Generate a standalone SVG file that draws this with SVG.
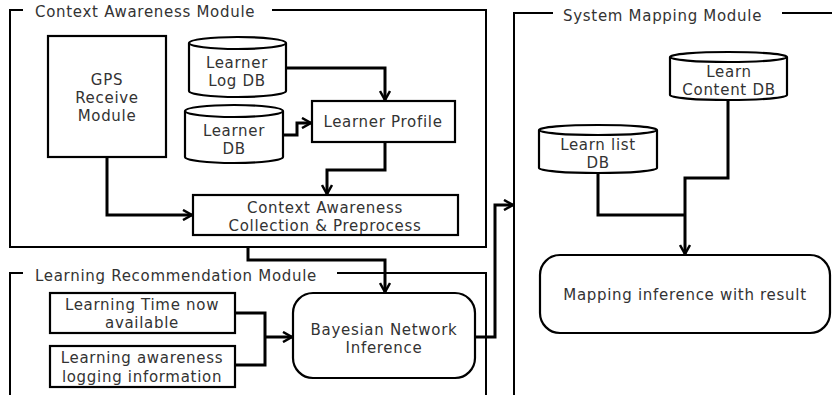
<svg xmlns="http://www.w3.org/2000/svg" width="832" height="395" viewBox="0 0 832 395">
<defs>
<marker id="arr" viewBox="0 0 12 12" refX="10" refY="6" markerWidth="12" markerHeight="12" markerUnits="userSpaceOnUse" orient="auto">
<path d="M1,1 L10,6 L1,11" fill="none" stroke="#000" stroke-width="2.5"/>
</marker>
</defs>
<style>
text{font-family:"DejaVu Sans","Noto Sans",sans-serif;font-size:15px;letter-spacing:0.7px;fill:#333;text-anchor:middle}
.t{text-anchor:start}
.frame{fill:none;stroke:#000;stroke-width:2}
.box{fill:#fff;stroke:#000;stroke-width:2.2}
.c{fill:none;stroke:#000;stroke-width:3}
</style>
<rect width="832" height="395" fill="#fff"/>
<g id="context-frame">
<path class="frame" d="M23,10 H10 V247 H486 V10 H272"/>
<text class="t" x="35" y="17">Context Awareness Module</text>
</g>
<g id="recommend-frame">
<path class="frame" d="M10,395 V273 H23 M337,273 H486 V395"/>
<text class="t" x="35" y="281">Learning Recommendation Module</text>
</g>
<g id="mapping-frame">
<path class="frame" d="M514,395 V13 H553 M782,13 H832"/>
<text class="t" x="563" y="21">System Mapping Module</text>
</g>
<g id="gps">
<rect class="box" x="48" y="36" width="118" height="121"/>
<text x="107" y="85">GPS</text>
<text x="107" y="103">Receive</text>
<text x="107" y="121">Module</text>
</g>
<g id="learner-log-db">
<path class="box" d="M189,43 A48.5,6 0 0 1 286,43 V91 A48.5,6 0 0 1 189,91 Z"/>
<path class="box" fill="none" d="M189,43 A48.5,6 0 0 0 286,43"/>
<text x="237" y="68">Learner</text>
<text x="237" y="86">Log DB</text>
</g>
<g id="learner-db">
<path class="box" d="M185,111 A49,6 0 0 1 283,111 V157 A49,6 0 0 1 185,157 Z"/>
<path class="box" fill="none" d="M185,111 A49,6 0 0 0 283,111"/>
<text x="234" y="136">Learner</text>
<text x="234" y="154">DB</text>
</g>
<g id="learner-profile">
<rect class="box" x="312" y="101" width="143" height="41"/>
<text x="383" y="127">Learner Profile</text>
</g>
<g id="collection">
<rect class="box" x="193" y="195" width="265" height="40"/>
<text x="325" y="213">Context Awareness</text>
<text x="325" y="231">Collection &amp; Preprocess</text>
</g>
<g id="learning-time">
<rect class="box" x="50" y="293" width="185" height="40"/>
<text x="142" y="310">Learning Time now</text>
<text x="142" y="328">available</text>
</g>
<g id="learning-awareness">
<rect class="box" x="50" y="346" width="185" height="41"/>
<text x="142" y="363">Learning awareness</text>
<text x="142" y="382">logging information</text>
</g>
<g id="bayesian">
<rect class="box" x="293" y="293" width="182" height="85" rx="20"/>
<text x="384" y="335">Bayesian Network</text>
<text x="384" y="353">Inference</text>
</g>
<g id="learn-content-db">
<path class="box" d="M670,57 A58.5,5 0 0 1 787,57 V95 A58.5,5 0 0 1 670,95 Z"/>
<path class="box" fill="none" d="M670,57 A58.5,5 0 0 0 787,57"/>
<text x="729" y="77">Learn</text>
<text x="729" y="95">Content DB</text>
</g>
<g id="learn-list-db">
<path class="box" d="M539,130 A59,5 0 0 1 657,130 V168 A59,5 0 0 1 539,168 Z"/>
<path class="box" fill="none" d="M539,130 A59,5 0 0 0 657,130"/>
<text x="598" y="150">Learn list</text>
<text x="598" y="168">DB</text>
</g>
<g id="mapping">
<rect class="box" x="540" y="255" width="290" height="78" rx="20"/>
<text x="685" y="300">Mapping inference with result</text>
</g>
<g id="connectors">
<path class="c" d="M286,68 H385 V100" marker-end="url(#arr)"/>
<path class="c" d="M283,135 H297 V123 H311" marker-end="url(#arr)"/>
<path class="c" d="M385,142 V170 H327 V194" marker-end="url(#arr)"/>
<path class="c" d="M107,157 V215 H192" marker-end="url(#arr)"/>
<path class="c" d="M248,248 V260 H385 V292" marker-end="url(#arr)"/>
<path class="c" d="M235,313 H265 V365 H235 M265,337 H292" marker-end="url(#arr)"/>
<path class="c" d="M475,337 H495 V205 H513" marker-end="url(#arr)"/>
<path class="c" d="M728,100 V178 H685 V254" marker-end="url(#arr)"/>
<path class="c" d="M598,173 V215 H685"/>
</g>
</svg>
